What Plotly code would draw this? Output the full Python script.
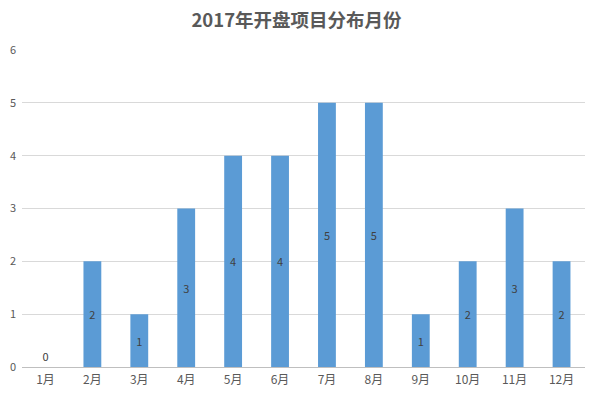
import plotly.graph_objects as go

months = ["1月", "2月", "3月", "4月", "5月", "6月", "7月", "8月", "9月", "10月", "11月", "12月"]
counts = [0, 2, 1, 3, 4, 4, 5, 5, 1, 2, 3, 2]

fig = go.Figure(go.Bar(
    x=months, y=counts,
    marker=dict(color="#5B9BD5", line=dict(width=0)),
    width=0.38,
    text=[str(v) for v in counts],
    textposition=["outside" if v == 0 else "inside" for v in counts],
    insidetextanchor="middle",
    textfont=dict(color="#404040", size=11),
    cliponaxis=False,
))

fig.update_layout(
    width=593, height=396,
    margin=dict(l=22, r=8, t=50, b=29),
    paper_bgcolor="white", plot_bgcolor="white",
    font=dict(family="Noto Sans CJK SC, sans-serif", color="#595959", size=11),
    title=dict(text="<b>2017年开盘项目分布月份</b>", x=0.5, xanchor="center", y=0.948, yanchor="middle",
               font=dict(size=18.5, color="#595959")),
    showlegend=False,
    bargap=0.62,
)
fig.update_yaxes(range=[0, 6], dtick=1, showgrid=True, gridcolor="#D9D9D9", gridwidth=1,
                 zeroline=False, tickfont=dict(size=11, color="#595959"),
                 ticks="", ticklabelstandoff=5, automargin=False)
fig.update_xaxes(showline=True, linecolor="#BFBFBF", linewidth=1, tickfont=dict(size=12, color="#595959"),
                 ticks="", ticklabelstandoff=2, automargin=False)

fig.write_html("out.html", config={"displayModeBar": False},
               post_script="document.body.style.margin='0';document.body.style.padding='0';")
